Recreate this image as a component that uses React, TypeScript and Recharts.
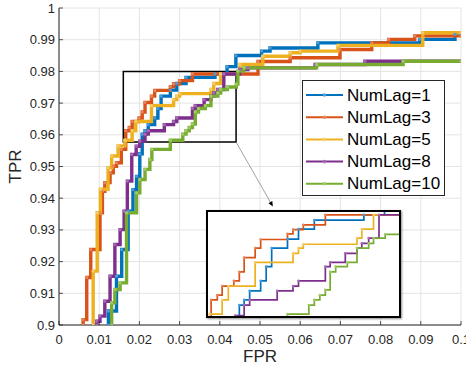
import React from 'react';
import { LineChart, Line, XAxis, YAxis, CartesianGrid, ReferenceArea, ReferenceLine } from 'recharts';

const xTicks = [0, 0.01, 0.02, 0.03, 0.04, 0.05, 0.06, 0.07, 0.08, 0.09, 0.1];
const xTickLabels = ['0', '0.01', '0.02', '0.03', '0.04', '0.05', '0.06', '0.07', '0.08', '0.09', '0.1'];
const yTicks = [0.9, 0.91, 0.92, 0.93, 0.94, 0.95, 0.96, 0.97, 0.98, 0.99, 1];
const yTickLabels = ['0.9', '0.91', '0.92', '0.93', '0.94', '0.95', '0.96', '0.97', '0.98', '0.99', '1'];

const seriesNames = ['NumLag=1', 'NumLag=3', 'NumLag=5', 'NumLag=8', 'NumLag=10'];
const seriesColors = ['#0072BD', '#D95319', '#EDB120', '#7E2F8E', '#77AC30'];
const markerColors = ['#4d9bd6', '#e8845c', '#f4cc6e', '#a56bb3', '#9fcb66'];

// Each point starts a horizontal run of the ROC staircase (FPR, TPR)
const lag1Fpr = [0.0123, 0.0123, 0.0143, 0.0156, 0.0172, 0.0184, 0.0193, 0.0201, 0.0207, 0.0214, 0.0222, 0.0238, 0.0246, 0.0254, 0.0277, 0.0293, 0.0316, 0.0388, 0.0418, 0.0440, 0.0504, 0.0525, 0.0644, 0.0897, 0.0985, 0.1];
const lag1Tpr = [0.9, 0.9044, 0.9154, 0.9238, 0.9359, 0.9427, 0.9469, 0.9540, 0.9602, 0.9613, 0.9632, 0.9653, 0.9683, 0.9722, 0.9741, 0.9762, 0.9781, 0.9792, 0.9815, 0.9850, 0.9864, 0.9874, 0.9890, 0.9901, 0.9917, 0.9917];

const lag3Fpr = [0.0060, 0.0060, 0.0069, 0.0079, 0.0102, 0.0108, 0.0114, 0.0127, 0.0135, 0.0143, 0.0155, 0.0166, 0.0175, 0.0182, 0.0199, 0.0207, 0.0214, 0.0230, 0.0238, 0.0277, 0.0285, 0.0300, 0.0332, 0.0495, 0.0575, 0.0699, 0.0778, 0.0820, 0.0885, 0.1];
const lag3Tpr = [0.9, 0.9017, 0.9150, 0.9238, 0.9354, 0.9422, 0.9449, 0.9480, 0.9501, 0.9512, 0.9554, 0.9613, 0.9623, 0.9642, 0.9653, 0.9672, 0.9702, 0.9722, 0.9740, 0.9752, 0.9761, 0.9771, 0.9792, 0.9831, 0.9843, 0.9869, 0.9890, 0.9901, 0.9912, 0.9912];

const lag5Fpr = [0.0085, 0.0085, 0.0095, 0.0103, 0.0122, 0.0131, 0.0147, 0.0164, 0.0182, 0.0191, 0.0230, 0.0285, 0.0293, 0.0300, 0.0378, 0.0385, 0.0402, 0.0450, 0.0507, 0.0575, 0.0600, 0.0694, 0.0905, 0.1];
const lag5Tpr = [0.9, 0.9170, 0.9354, 0.9428, 0.9496, 0.9533, 0.9565, 0.9583, 0.9613, 0.9642, 0.9692, 0.9711, 0.9722, 0.9730, 0.9743, 0.9762, 0.9792, 0.9822, 0.9848, 0.9859, 0.9864, 0.9882, 0.9922, 0.9922];

const lag8Fpr = [0.0094, 0.0094, 0.0102, 0.0114, 0.0127, 0.0139, 0.0152, 0.0162, 0.0170, 0.0181, 0.0192, 0.0201, 0.0214, 0.0222, 0.0262, 0.0285, 0.0293, 0.0332, 0.0339, 0.0361, 0.0378, 0.0385, 0.0395, 0.0410, 0.0450, 0.0470, 0.0637, 0.0761, 0.1];
const lag8Tpr = [0.9, 0.9012, 0.9028, 0.9075, 0.9154, 0.9254, 0.9301, 0.9359, 0.9454, 0.9538, 0.9564, 0.9580, 0.9602, 0.9613, 0.9632, 0.9642, 0.9653, 0.9683, 0.9692, 0.9711, 0.9722, 0.9732, 0.9743, 0.9792, 0.9806, 0.9811, 0.9822, 0.9832, 0.9832];

const lag10Fpr = [0.0131, 0.0131, 0.0139, 0.0152, 0.0168, 0.0193, 0.0201, 0.0214, 0.0226, 0.0231, 0.0277, 0.0308, 0.0316, 0.0324, 0.0332, 0.0339, 0.0347, 0.0364, 0.0378, 0.0395, 0.0402, 0.0419, 0.0441, 0.0445, 0.0460, 0.0641, 0.0856, 0.1];
const lag10Tpr = [0.9, 0.9070, 0.9112, 0.9133, 0.9354, 0.9417, 0.9459, 0.9491, 0.9522, 0.9554, 0.9583, 0.9602, 0.9613, 0.9623, 0.9634, 0.9672, 0.9683, 0.9692, 0.9722, 0.9732, 0.9743, 0.9751, 0.9760, 0.9801, 0.9811, 0.9822, 0.9832, 0.9832];

// zoom window (inset) and arrow tip
const zoomFpr = [0.016, 0.04405];
const zoomTpr = [0.9577, 0.98];
const arrowTip = { x: 0.0532, y: 0.9374 };

const toPoints = (xs: number[], ys: number[]) => xs.map((x, i) => ({ x, y: ys[i] }));
const series = [
  toPoints(lag1Fpr, lag1Tpr),
  toPoints(lag3Fpr, lag3Tpr),
  toPoints(lag5Fpr, lag5Tpr),
  toPoints(lag8Fpr, lag8Tpr),
  toPoints(lag10Fpr, lag10Tpr),
];

const AX = '#262626';
const FONT = '"Liberation Sans", Arial, Helvetica, sans-serif';

const labelOf = (vals: number[], labels: string[], v: number) => {
  const i = vals.findIndex((t) => Math.abs(t - v) < 1e-9);
  return i >= 0 ? labels[i] : '';
};

const BottomTick = (p: any) => (
  <g>
    <line x1={p.x} x2={p.x} y1={p.y} y2={p.y - 4} stroke={AX} strokeWidth={0.8} />
    <text x={p.x} y={p.y + 14} textAnchor="middle" dominantBaseline="central" fontSize={13} fill={AX} fontFamily={FONT}>
      {labelOf(xTicks, xTickLabels, p.payload.value)}
    </text>
  </g>
);
const TopTick = (p: any) => (
  <line x1={p.x} x2={p.x} y1={p.y} y2={p.y + 4} stroke={AX} strokeWidth={0.8} />
);
const LeftTick = (p: any) => (
  <g>
    <line x1={p.x} x2={p.x + 4} y1={p.y} y2={p.y} stroke={AX} strokeWidth={0.8} />
    <text x={p.x - 4} y={p.y} textAnchor="end" dominantBaseline="central" fontSize={13} fill={AX} fontFamily={FONT}>
      {labelOf(yTicks, yTickLabels, p.payload.value)}
    </text>
  </g>
);
const RightTick = (p: any) => (
  <line x1={p.x} x2={p.x - 4} y1={p.y} y2={p.y} stroke={AX} strokeWidth={0.8} />
);

const ArrowShape = (p: any) => {
  const { x1, y1, x2, y2 } = p;
  const ang = Math.atan2(y2 - y1, x2 - x1);
  const L = 5, W = 2.2;
  const bx = x2 - L * Math.cos(ang), by = y2 - L * Math.sin(ang);
  const px = -Math.sin(ang) * W, py = Math.cos(ang) * W;
  return (
    <g>
      <line x1={x1} y1={y1} x2={bx} y2={by} stroke="#8a8a8a" strokeWidth={0.8} />
      <polygon points={`${x2},${y2} ${bx + px},${by + py} ${bx - px},${by - py}`} fill="#000" />
    </g>
  );
};

export default function App() {
  return (
    <div style={{ position: 'absolute', left: 0, top: 0, width: 466, height: 369, background: '#fff', fontFamily: FONT }}>
      <LineChart width={466} height={369} margin={{ top: 8, right: 5, bottom: 0, left: 0 }}>
        <CartesianGrid stroke="#e4e4e4" strokeWidth={1} />
        <XAxis
          type="number"
          dataKey="x"
          domain={[0, 0.1]}
          ticks={xTicks}
          interval={0}
          height={44}
          tickSize={0}
          tickMargin={0}
          tickLine={false}
          axisLine={{ stroke: AX, strokeWidth: 1 }}
          tick={BottomTick}
          allowDataOverflow
          label={(p: any) => {
            const vb = p.viewBox || { x: 59, y: 325, width: 402 };
            return (
              <text x={vb.x + vb.width / 2} y={vb.y + 31} textAnchor="middle" dominantBaseline="central" fontSize={17} fill={AX} fontFamily={FONT}>
                FPR
              </text>
            );
          }}
        />
        <XAxis
          xAxisId="top"
          orientation="top"
          type="number"
          dataKey="x"
          domain={[0, 0.1]}
          ticks={xTicks}
          interval={0}
          height={0}
          tickSize={0}
          tickMargin={0}
          tickLine={false}
          axisLine={{ stroke: AX, strokeWidth: 1 }}
          tick={TopTick}
        />
        <YAxis
          type="number"
          domain={[0.9, 1]}
          ticks={yTicks}
          interval={0}
          width={59}
          tickSize={0}
          tickMargin={0}
          tickLine={false}
          axisLine={{ stroke: AX, strokeWidth: 1 }}
          tick={LeftTick}
          allowDataOverflow
          label={(p: any) => {
            const vb = p.viewBox || { x: 0, y: 8, height: 317 };
            const cy = vb.y + vb.height / 2;
            return (
              <text x={15} y={cy} transform={`rotate(-90 15 ${cy})`} textAnchor="middle" dominantBaseline="central" fontSize={17} fill={AX} fontFamily={FONT}>
                TPR
              </text>
            );
          }}
        />
        <YAxis
          yAxisId="right"
          orientation="right"
          type="number"
          domain={[0.9, 1]}
          ticks={yTicks}
          interval={0}
          width={0}
          tickSize={0}
          tickMargin={0}
          tickLine={false}
          axisLine={{ stroke: AX, strokeWidth: 1 }}
          tick={RightTick}
        />
        {series.map((d, i) => (
          <Line
            key={seriesNames[i]}
            data={d}
            dataKey="y"
            type="stepAfter"
            stroke={seriesColors[i]}
            strokeWidth={3.4}
            dot={{ r: 1.6, fill: markerColors[i], stroke: 'none' }}
            isAnimationActive={false}
          />
        ))}
        <ReferenceArea
          x1={zoomFpr[0]}
          x2={zoomFpr[1]}
          y1={zoomTpr[0]}
          y2={zoomTpr[1]}
          fill="none"
          fillOpacity={0}
          stroke="#000"
          strokeWidth={1.5}
          ifOverflow="visible"
        />
        <ReferenceLine
          segment={[{ x: zoomFpr[1], y: zoomTpr[0] }, arrowTip]}
          ifOverflow="visible"
          shape={ArrowShape}
        />
      </LineChart>

      {/* legend */}
      <div style={{ position: 'absolute', left: 302, top: 80, width: 143, height: 116, boxSizing: 'border-box', border: `1px solid ${AX}`, background: '#fff' }}>
        <svg width={141} height={114} style={{ position: 'absolute', left: 0, top: 0 }}>
          {seriesNames.map((n, i) => {
            const cy = 14 + i * 22.2;
            return (
              <g key={n}>
                <line x1={3} x2={40} y1={cy} y2={cy} stroke={seriesColors[i]} strokeWidth={2} />
                <circle cx={21.5} cy={cy} r={1.8} fill={markerColors[i]} />
                <text x={44} y={cy} dominantBaseline="central" fontSize={17} fill="#000" fontFamily={FONT}>{n}</text>
              </g>
            );
          })}
        </svg>
      </div>

      {/* inset */}
      <div style={{ position: 'absolute', left: 207, top: 211, width: 193, height: 106, background: '#fff' }}>
        <LineChart width={193} height={106} margin={{ top: 0, right: 0, bottom: 0, left: 0 }}>
          <XAxis hide type="number" dataKey="x" domain={zoomFpr} allowDataOverflow />
          <YAxis hide type="number" domain={zoomTpr} allowDataOverflow />
          {series.map((d, i) => (
            <Line
              key={seriesNames[i]}
              data={d}
              dataKey="y"
              type="stepAfter"
              stroke={seriesColors[i]}
              strokeWidth={1.7}
              dot={{ r: 1.3, fill: markerColors[i], stroke: 'none' }}
              isAnimationActive={false}
            />
          ))}
        </LineChart>
      </div>
      <div style={{ position: 'absolute', left: 206, top: 210, width: 195, height: 108, boxSizing: 'border-box', border: '2.5px solid #000', boxShadow: '1px 1px 2px rgba(0,0,0,0.45)' }} />
    </div>
  );
}
